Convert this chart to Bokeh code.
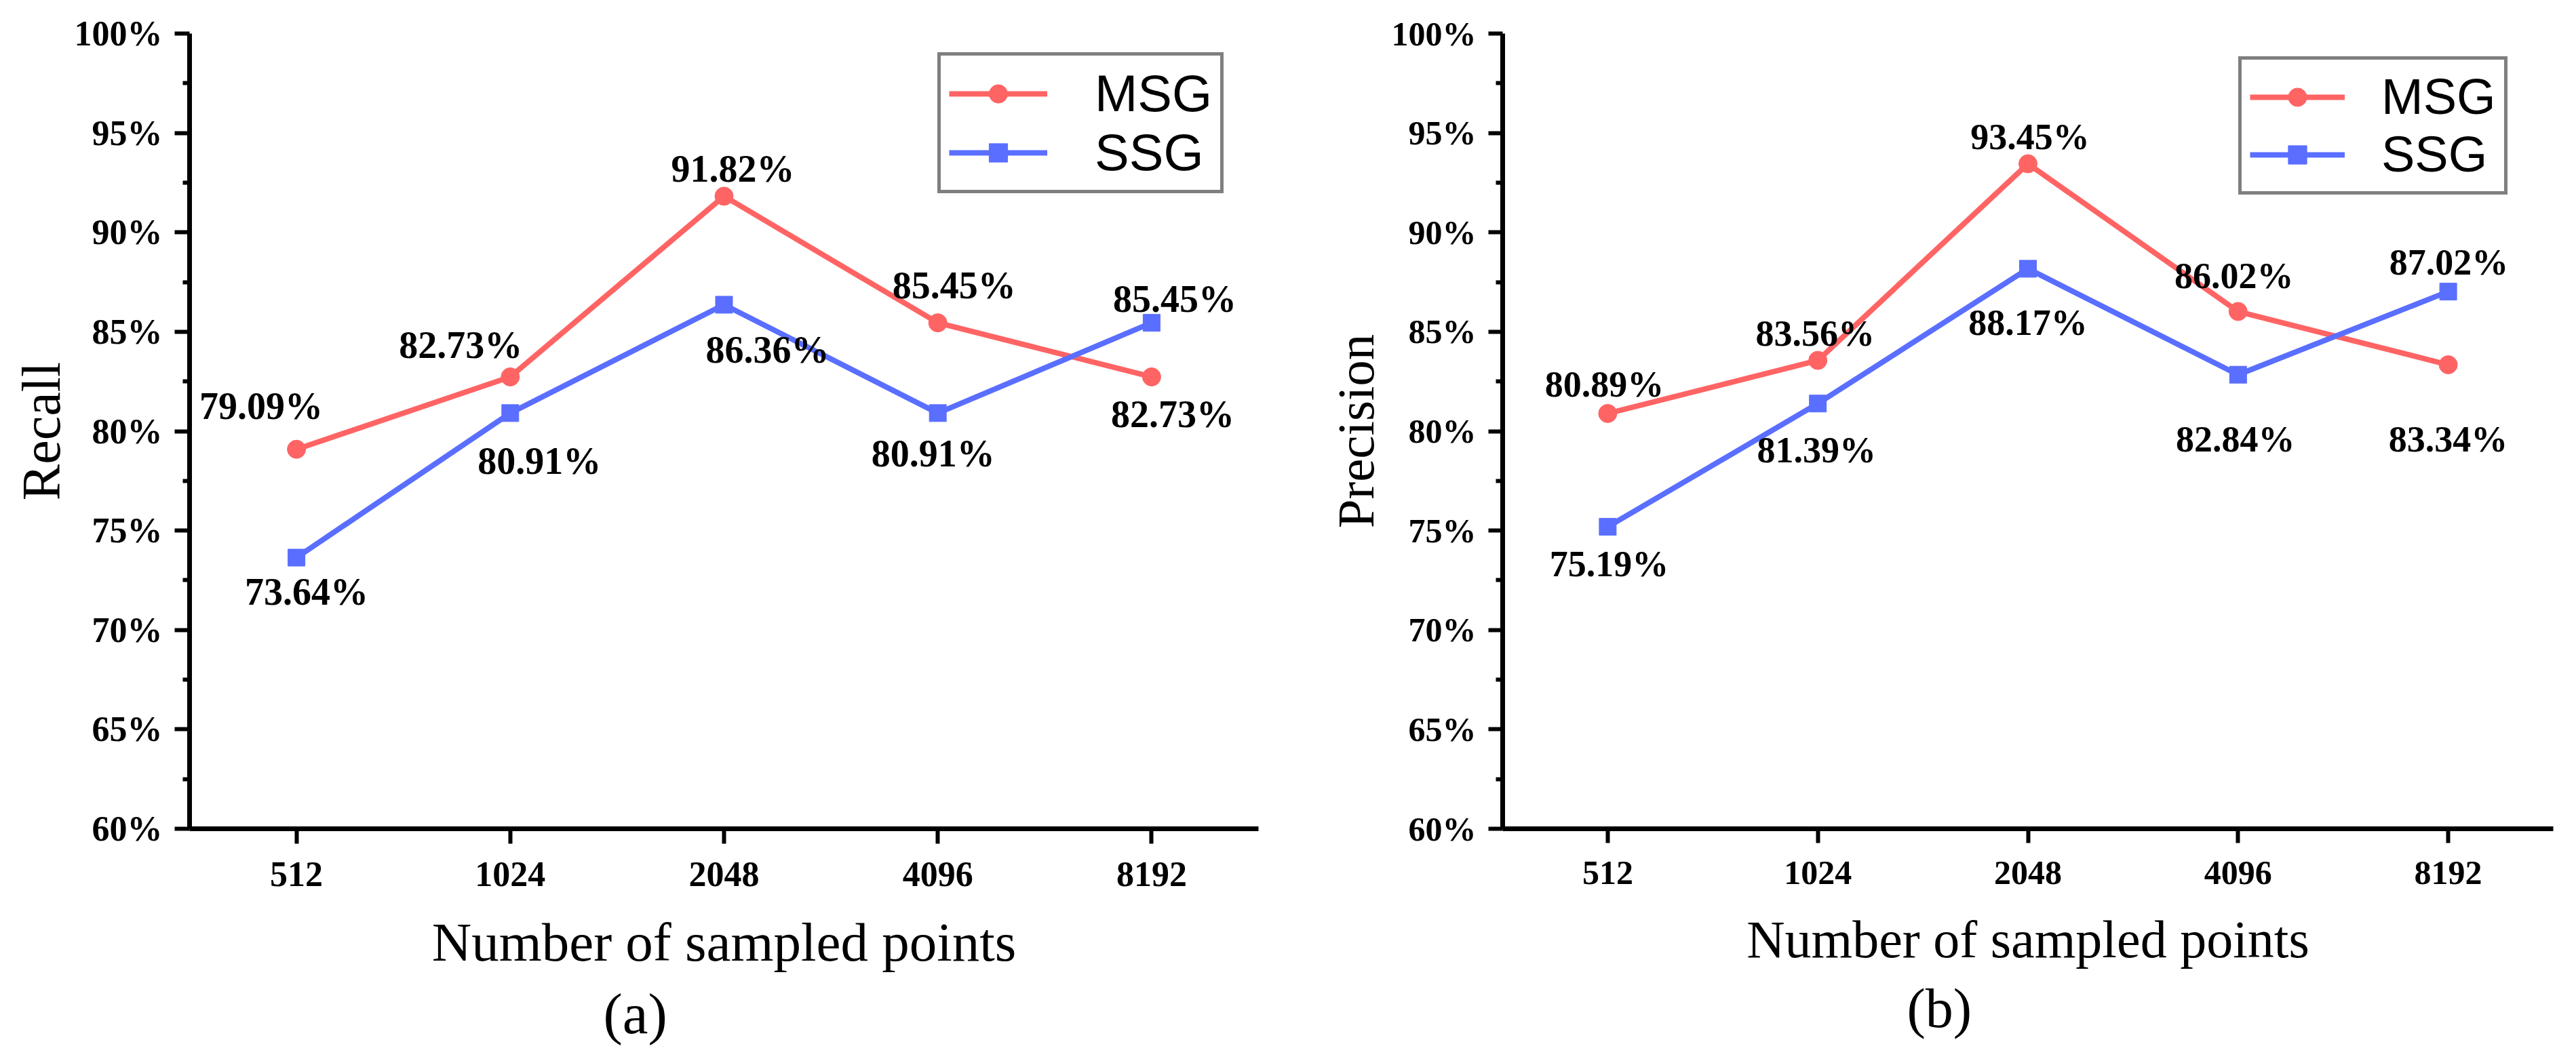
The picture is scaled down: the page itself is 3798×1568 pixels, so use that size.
from bokeh.plotting import figure
from bokeh.models import (ColumnDataSource, FactorRange, Range1d, FixedTicker,
                          NumeralTickFormatter, Legend, LegendItem, Title)
from bokeh.layouts import row
from bokeh.core.properties import value
from bokeh.embed import file_html
from bokeh.resources import INLINE

# ---------------- data ----------------
points = ["512", "1024", "2048", "4096", "8192"]
recall_msg = [79.09, 82.73, 91.82, 85.45, 82.73]
recall_ssg = [73.64, 80.91, 86.36, 80.91, 85.45]
precision_msg = [80.89, 83.56, 93.45, 86.02, 83.34]
precision_ssg = [75.19, 81.39, 88.17, 82.84, 87.02]
y_major_ticks = [0.60, 0.65, 0.70, 0.75, 0.80, 0.85, 0.90, 0.95, 1.00]
y_minor_ticks = [0.625, 0.675, 0.725, 0.775, 0.825, 0.875, 0.925, 0.975]
series_names = ["MSG", "SSG"]

# ---------------- label placement (style, pixels) ----------------
recall_msg_dx = [-52, -73, 13, 24, 31]
recall_msg_dy = [-64, -47, -40, -55, 55]
recall_ssg_dx = [15, 43, 64, -7, 34]
recall_ssg_dy = [50, 71, 67, 60, -35]
precision_msg_dx = [-5, -4, 3, -6, 0]
precision_msg_dy = [-43, -40, -40, -52, 110]
precision_ssg_dx = [2, -2, 0, -4, 1]
precision_ssg_dy = [55, 69, 80, 95, -43]

RED = "#FF6464"
BLUE = "#5A6EFF"
SERIF = "Liberation Serif"
SANS = "Liberation Sans"


def make_panel(msg, ssg, msg_dx, msg_dy, ssg_dx, ssg_dy, ylabel, caption, cfg):
    p = figure(width=cfg["width"], height=cfg["height"],
               x_range=FactorRange(*points), y_range=Range1d(0.6, 1.0),
               output_backend="svg", toolbar_location=None,
               min_border_left=cfg["bl"], min_border_right=cfg["br"],
               min_border_top=cfg["bt"], min_border_bottom=cfg["bb"])
    p.outline_line_color = None
    p.xgrid.visible = False
    p.ygrid.visible = False
    p.background_fill_color = "white"
    p.border_fill_color = "white"

    fs = cfg["scale"]
    for ax in (p.xaxis[0], p.yaxis[0]):
        ax.axis_line_width = 7
        ax.axis_line_color = "black"
        ax.major_tick_line_width = 6
        ax.major_tick_in = 0
        ax.major_tick_out = int(round(22 * fs))
        ax.major_label_text_font = SERIF
        ax.major_label_text_font_style = "bold"
        ax.major_label_text_font_size = f"{round(52 * fs)}px"
        ax.major_label_text_color = "black"
        ax.axis_label_text_font = SERIF
        ax.axis_label_text_font_style = "normal"
        ax.axis_label_text_color = "black"
    p.yaxis.ticker = FixedTicker(ticks=y_major_ticks, minor_ticks=y_minor_ticks)
    p.yaxis.formatter = NumeralTickFormatter(format="0%")
    p.yaxis.minor_tick_in = 0
    p.yaxis.minor_tick_out = 10
    p.yaxis.minor_tick_line_width = 6
    p.yaxis.minor_tick_line_color = "black"
    p.yaxis.major_label_standoff = 18
    p.yaxis.axis_label = ylabel
    p.yaxis.axis_label_text_font_size = f"{round(80 * fs)}px"
    p.yaxis.axis_label_standoff = cfg["ylab_standoff"]
    p.xaxis.major_label_standoff = 27
    p.xaxis.axis_label = "Number of sampled points"
    p.xaxis.axis_label_text_font_size = f"{round(81 * fs)}px"
    p.xaxis.axis_label_standoff = 35

    renderers = []
    for vals, dx, dy, color, marker, msize in (
            (msg, msg_dx, msg_dy, RED, "circle", 27),
            (ssg, ssg_dx, ssg_dy, BLUE, "square", 25)):
        src = ColumnDataSource(dict(
            x=points, y=[v / 100 for v in vals],
            label=[f"{v:.2f}%" for v in vals],
            dx=dx, dy=dy))
        ln = p.line("x", "y", source=src, line_color=color, line_width=8)
        sc = p.scatter("x", "y", source=src, marker=marker, size=msize,
                       fill_color=color, line_color=color)
        p.text("x", "y", text="label", x_offset="dx", y_offset="dy", source=src,
               text_font=value(SERIF), text_font_style="bold",
               text_font_size=f"{round(56 * fs)}px", text_color="black",
               text_align="center", text_baseline="alphabetic")
        renderers.append([ln, sc])

    legend = Legend(items=[LegendItem(label=n, renderers=r)
                           for n, r in zip(series_names, renderers)],
                    location=cfg["leg_loc"],
                    label_text_font=SANS, label_text_font_size=f"{cfg['leg_fs']}px",
                    label_text_color="black",
                    glyph_width=cfg["leg_gw"], glyph_height=68,
                    label_standoff=cfg["leg_so"], padding=12, spacing=0,
                    margin=0, border_line_color="black", border_line_width=5,
                    background_fill_color="white", background_fill_alpha=1.0)
    p.add_layout(legend)

    cap = Title(text=caption, align="left", offset=cfg["cap_off"],
                text_font=SERIF, text_font_style="normal",
                text_font_size=f"{round(85 * fs)}px", text_color="black",
                standoff=16)
    p.add_layout(cap, "below")
    return p


cfg_a = dict(width=1900, height=1552, bl=279, br=45, bt=49, bb=330, scale=1.0,
             ylab_standoff=2, leg_loc=(1103, 937), leg_fs=76, leg_gw=145,
             leg_so=70, cap_off=610)
cfg_b = dict(width=1882, height=1552, bl=315, br=18, bt=45, bb=320, scale=0.96,
             ylab_standoff=7, leg_loc=(1085, 935), leg_fs=74, leg_gw=140,
             leg_so=54, cap_off=596)

pa = make_panel(recall_msg, recall_ssg, recall_msg_dx, recall_msg_dy,
                recall_ssg_dx, recall_ssg_dy, "Recall", "(a)", cfg_a)
pb = make_panel(precision_msg, precision_ssg, precision_msg_dx, precision_msg_dy,
                precision_ssg_dx, precision_ssg_dy, "Precision", "(b)", cfg_b)

layout = row(pa, pb, spacing=0)
open("out.html", "w").write(file_html(layout, INLINE))
